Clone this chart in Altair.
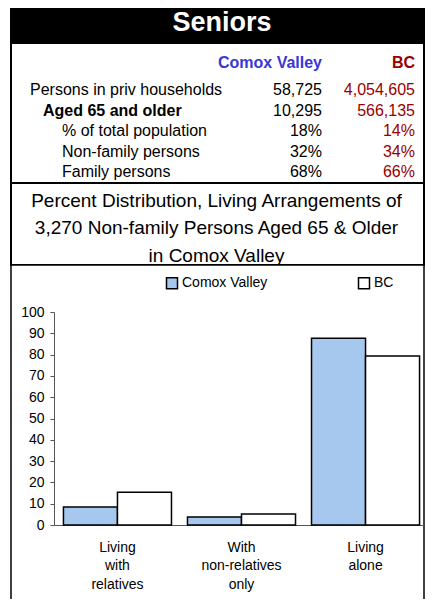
import altair as alt
import pandas as pd

# ---------------- data ----------------
title_text = "Seniors"
col_heads = ["Comox Valley", "BC"]
row_labels = ["Persons in priv households", "Aged 65 and older", "% of total population",
              "Non-family persons", "Family persons"]
comox_vals = ["58,725", "10,295", "18%", "32%", "68%"]
bc_vals = ["4,054,605", "566,135", "14%", "34%", "66%"]
subtitle_lines = ["Percent Distribution, Living Arrangements of",
                  "3,270 Non-family Persons Aged 65 & Older",
                  "in Comox Valley"]
categories = ["Living with relatives", "With non-relatives only", "Living alone"]
series = ["Comox Valley", "BC"]
comox_pct = [8.5, 3.8, 87.7]
bc_pct = [15.4, 5.2, 79.4]

FONT = "Liberation Sans"
W = 413
BLUE = "#3737d6"
RED = "#990000"
BAR_BLUE = "#a6c8ee"

# ---------------- header ----------------
header = alt.Chart(pd.DataFrame({"t": [title_text]})).mark_text(
    font=FONT, fontSize=27, fontWeight="bold", color="white",
    align="center", baseline="alphabetic"
).encode(
    text="t:N", x=alt.value(211), y=alt.value(27)
).properties(width=W, height=39,
             view=alt.ViewBackground(fill="black", stroke="black", strokeWidth=2))

# ---------------- table ----------------
tbl = pd.DataFrame({"row": list(range(len(row_labels))), "label": row_labels,
                    "cv": comox_vals, "bc": bc_vals})
heads = pd.DataFrame({"h": col_heads})
ysc = alt.Scale(domain=[0, 4], range=[47, 129])
tbase = alt.Chart(tbl).encode(y=alt.Y("row:Q", scale=ysc, axis=None))
FS = 16

lab0 = tbase.transform_filter("datum.row == 0").mark_text(
    font=FONT, fontSize=FS, align="left", baseline="middle", color="black"
).encode(text="label:N", x=alt.value(19))
lab1 = tbase.transform_filter("datum.row == 1").mark_text(
    font=FONT, fontSize=FS, fontWeight="bold", align="left", baseline="middle", color="black"
).encode(text="label:N", x=alt.value(32))
lab2 = tbase.transform_filter("datum.row >= 2").mark_text(
    font=FONT, fontSize=FS, align="left", baseline="middle", color="black"
).encode(text="label:N", x=alt.value(51))
cvt = tbase.mark_text(font=FONT, fontSize=FS, align="right", baseline="middle", color="black"
                      ).encode(text="cv:N", x=alt.value(311))
bct = tbase.mark_text(font=FONT, fontSize=FS, align="right", baseline="middle", color=RED
                      ).encode(text="bc:N", x=alt.value(404))
h1 = alt.Chart(heads).transform_filter(alt.datum.h == col_heads[0]).mark_text(
    font=FONT, fontSize=FS, fontWeight="bold", align="right", baseline="middle", color=BLUE
).encode(text="h:N", x=alt.value(311), y=alt.value(20))
h2 = alt.Chart(heads).transform_filter(alt.datum.h == col_heads[1]).mark_text(
    font=FONT, fontSize=FS, fontWeight="bold", align="right", baseline="middle", color=RED
).encode(text="h:N", x=alt.value(404), y=alt.value(20))

table = alt.layer(lab0, lab1, lab2, cvt, bct, h1, h2).properties(
    width=W, height=140,
    view=alt.ViewBackground(fill="white", stroke="black", strokeWidth=2))

# ---------------- subtitle box ----------------
sub = pd.DataFrame({"i": list(range(len(subtitle_lines))), "line": subtitle_lines})
subtitle = alt.Chart(sub).mark_text(
    font=FONT, fontSize=19, align="center", baseline="middle", color="black"
).encode(
    text="line:N", x=alt.value(205.5),
    y=alt.Y("i:Q", scale=alt.Scale(domain=[0, 2], range=[17.5, 72.5]), axis=None)
).properties(width=W, height=82,
             view=alt.ViewBackground(fill="white", stroke="black", strokeWidth=2))

# ---------------- bar chart ----------------
bars_df = pd.DataFrame({
    "category": categories * 2,
    "series": [series[0]] * len(categories) + [series[1]] * len(categories),
    "value": comox_pct + bc_pct,
})

bars = alt.Chart(bars_df).mark_bar(stroke="black", strokeWidth=1.5).encode(
    x=alt.X("category:N", sort=categories,
            scale=alt.Scale(range=[43, 413], paddingInner=0.129, paddingOuter=0.056,
                            align=0.68),
            axis=alt.Axis(title=None, labelAngle=0, ticks=False, tickSize=0, offset=-80,
                          domainColor="#555", labelColor="black", labelFont=FONT,
                          labelFontSize=14, labelPadding=15, labelLineHeight=18.5,
                          labelExpr="split(datum.label, ' ')")),
    xOffset=alt.XOffset("series:N", sort=series,
                        scale=alt.Scale(domain=series, paddingInner=0, paddingOuter=0)),
    y=alt.Y("value:Q", scale=alt.Scale(domain=[0, 100], range=[260, 47]),
            axis=alt.Axis(title=None, values=list(range(0, 101, 10)), offset=-43,
                          grid=False, tickSize=4, tickColor="#555", domainColor="#555",
                          labelColor="black", labelFont=FONT, labelFontSize=14,
                          labelPadding=6)),
    color=alt.Color("series:N", sort=series,
                    scale=alt.Scale(domain=series, range=[BAR_BLUE, "white"]),
                    legend=alt.Legend(title=None, orient="none", legendX=154, legendY=11,
                                      direction="horizontal", symbolType="square",
                                      symbolSize=121, symbolStrokeColor="black",
                                      symbolStrokeWidth=1.5, labelFont=FONT,
                                      labelFontSize=14, labelColor="black",
                                      labelOffset=3, columnPadding=87)),
).properties(width=W, height=340,
             view=alt.ViewBackground(fill="white", stroke="black", strokeWidth=1.5))

chart = alt.vconcat(header, table, subtitle, bars, spacing=0, bounds="flush").resolve_legend(
    color="independent"
).configure(
    padding={"left": 2, "top": -5, "right": 0, "bottom": -7}, font=FONT
)

chart.save("out.html", embed_options={"renderer": "svg", "actions": False})
